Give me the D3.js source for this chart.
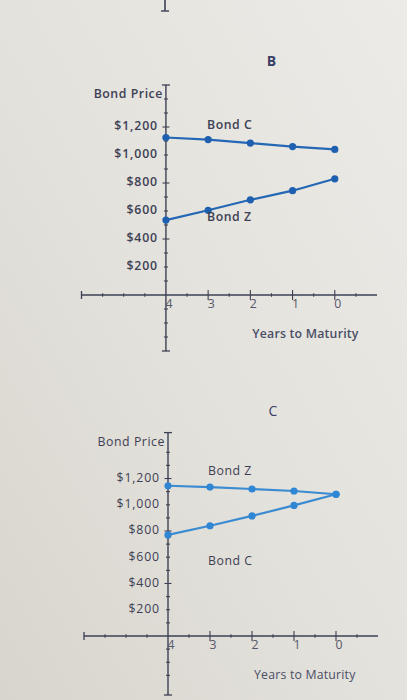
<!DOCTYPE html>
<html><head><meta charset="utf-8">
<script src="https://cdn.jsdelivr.net/npm/d3@7"></script>
<style>
html,body{margin:0;padding:0;background:#e4e2dc;}
svg{display:block;}
</style></head>
<body>
<svg id="chart" width="407" height="700"></svg>
<script>
// ---- data ----
const years = [4, 3, 2, 1, 0];
const yearLabels = ["4", "3", "2", "1", "0"];
const priceTicks = [200, 400, 600, 800, 1000, 1200];
const priceLabels = ["$200", "$400", "$600", "$800", "$1,000", "$1,200"];
const panelTitles = ["B", "C"];
const panelB_bondC = [1125, 1110, 1085, 1060, 1040];
const panelB_bondZ = [535, 605, 680, 745, 830];
const panelC_bondZ = [1145, 1135, 1120, 1105, 1080];
const panelC_bondC = [770, 840, 915, 995, 1080];

const svg = d3.select("#chart");
const defs = svg.append("defs");
const grad = defs.append("linearGradient").attr("id","bg").attr("x1","100%").attr("y1","0%").attr("x2","0%").attr("y2","100%");
grad.append("stop").attr("offset","0%").attr("stop-color","#ecebe7");
grad.append("stop").attr("offset","55%").attr("stop-color","#e3e1db");
grad.append("stop").attr("offset","100%").attr("stop-color","#d8d5ce");
svg.append("rect").attr("width",407).attr("height",700).attr("fill","url(#bg)");

const ink = "#3d4054";
const font = "'Open Sans', 'DejaVu Sans', sans-serif";
const fs = 12.3, ls = 0.55;

// stray axis end from a chart above (visible at photo's top edge)
svg.append("line").attr("x1",165).attr("x2",165).attr("y1",0).attr("y2",11).attr("stroke",ink).attr("stroke-width",1.6);
svg.append("line").attr("x1",161).attr("x2",169).attr("y1",11).attr("y2",11).attr("stroke",ink).attr("stroke-width",1.4);

const panels = [
  {title: panelTitles[0], xr:[81.5,377], yd:[-400,1500], yr:[351,85], titleY:62,
   series:[{name:"Bond C", vals:panelB_bondC, lx:207, ly:126},
           {name:"Bond Z", vals:panelB_bondZ, lx:207, ly:218}],
   color:"#2467b4", dot:"#1f5fb0", bold:600, axisLabelY:335},
  {title: panelTitles[1], xr:[84,378], yd:[-450,1550], yr:[695,432.6], titleY:412,
   series:[{name:"Bond Z", vals:panelC_bondZ, lx:208, ly:472},
           {name:"Bond C", vals:panelC_bondC, lx:208, ly:562}],
   color:"#3a8bd2", dot:"#2f86d4", bold:400, axisLabelY:676}
];

panels.forEach(p => {
  const x = d3.scaleLinear().domain([6,-1]).range(p.xr);
  const y = d3.scaleLinear().domain(p.yd).range(p.yr);
  const g = svg.append("g");
  const x0 = x(4), y0 = y(0);

  // title
  g.append("text").attr("x", x(1.5)).attr("y", p.titleY).attr("text-anchor","middle")
    .attr("dominant-baseline","middle").attr("font-family",font).attr("font-size",14)
    .attr("font-weight",p.bold===600?700:400).attr("fill","#3a3f66").text(p.title);

  // y axis line
  g.append("line").attr("x1",x0).attr("x2",x0).attr("y1",y(p.yd[1])).attr("y2",y(p.yd[0]))
    .attr("stroke",ink).attr("stroke-width",1.4);
  [p.yd[0], p.yd[1]].forEach(v => g.append("line").attr("x1",x0-4).attr("x2",x0+4)
    .attr("y1",y(v)).attr("y2",y(v)).attr("stroke",ink).attr("stroke-width",1.3));
  d3.range(-300, 1500, 100).forEach(v => {
    if (v === 0) return;
    const major = v % 400 === 0;
    g.append("line").attr("x1",x0-(major?3.5:2)).attr("x2",x0+(major?3.5:2))
      .attr("y1",y(v)).attr("y2",y(v)).attr("stroke",ink).attr("stroke-width",1.1);
  });

  // x axis line
  g.append("line").attr("x1",x(6)).attr("x2",x(-1)).attr("y1",y0).attr("y2",y0)
    .attr("stroke",ink).attr("stroke-width",1.4);
  g.append("line").attr("x1",x(6)).attr("x2",x(6)).attr("y1",y0-4).attr("y2",y0+4)
    .attr("stroke",ink).attr("stroke-width",1.3);
  d3.range(5.5, -1, -0.5).forEach(v => {
    if (v === 4) return;
    const major = Number.isInteger(v) && v <= 4;
    g.append("line").attr("x1",x(v)).attr("x2",x(v))
      .attr("y1",y0-(major?5:1.8)).attr("y2",y0+(major?5:1.8))
      .attr("stroke",ink).attr("stroke-width",1.1);
  });

  // y tick labels
  priceTicks.forEach((v,i) => {
    g.append("text").attr("x", x0-8).attr("y", y(v)).attr("text-anchor","end")
      .attr("dominant-baseline","middle").attr("font-family",font).attr("font-size",fs)
      .attr("font-weight",p.bold).attr("letter-spacing",ls+0.3).attr("fill",ink).text(priceLabels[i]);
  });
  g.append("text").attr("x", x0-3).attr("y", y(p.yd[1])+10).attr("text-anchor","end")
    .attr("dominant-baseline","middle").attr("font-family",font).attr("font-size",fs)
    .attr("font-weight",p.bold).attr("letter-spacing",ls).attr("fill",ink).text("Bond Price");

  // x tick labels
  years.forEach((v,i) => {
    g.append("text").attr("x", x(v)+3).attr("y", y0+10).attr("text-anchor","middle")
      .attr("dominant-baseline","middle").attr("font-family",font).attr("font-size",fs)
      .attr("fill","#55586a").text(yearLabels[i]);
  });
  g.append("text").attr("x", x(2)+2).attr("y", p.axisLabelY).attr("text-anchor","start")
    .attr("dominant-baseline","middle").attr("font-family",font).attr("font-size",fs)
    .attr("font-weight",p.bold).attr("letter-spacing",0.2).attr("fill","#4a4e66").text("Years to Maturity");

  // series
  const line = d3.line().x((d,i)=>x(years[i])).y(d=>y(d));
  p.series.forEach(s => {
    g.append("path").attr("d", line(s.vals)).attr("fill","none")
      .attr("stroke",p.color).attr("stroke-width",2.2);
    g.selectAll(null).data(s.vals).enter().append("circle")
      .attr("cx",(d,i)=>x(years[i])).attr("cy",d=>y(d)).attr("r",3.6).attr("fill",p.dot);
    g.append("text").attr("x", s.lx).attr("y", s.ly).attr("dominant-baseline","middle")
      .attr("font-family",font).attr("font-size",fs).attr("font-weight",p.bold)
      .attr("letter-spacing",ls).attr("fill",ink).text(s.name);
  });
});
</script>
</body></html>
